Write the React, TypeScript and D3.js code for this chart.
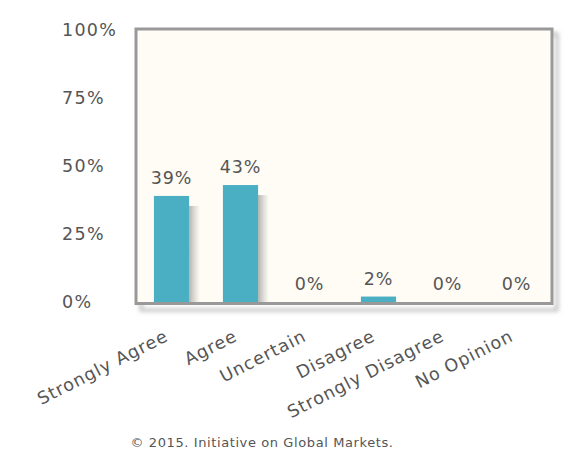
import React from "react";
import * as d3 from "d3";

const categories = ["Strongly Agree", "Agree", "Uncertain", "Disagree", "Strongly Disagree", "No Opinion"];
const values = [39, 43, 0, 2, 0, 0];
const yTicks = [0, 25, 50, 75, 100];
const footer = "© 2015. Initiative on Global Markets.";

const W = 568;
const H = 457;
const plot = { left: 137, right: 551, top: 30, bottom: 302 };
const font = "'DejaVu Sans', Verdana, sans-serif";
const textColor = "#555";

export default function App() {
  const x = d3
    .scaleBand<string>()
    .domain(categories)
    .range([plot.left, plot.right])
    .paddingInner(0.49)
    .paddingOuter(0.245);
  const y = d3.scaleLinear().domain([0, 100]).range([plot.bottom, plot.top]);
  const bw = x.bandwidth();

  return (
    <svg width={W} height={H} style={{ position: "absolute", left: 0, top: 0, display: "block" }}>
      <defs>
        <linearGradient id="barShadow" x1="0" x2="1" y1="0" y2="0">
          <stop offset="0" stopColor="#777" stopOpacity="0.55" />
          <stop offset="1" stopColor="#999" stopOpacity="0" />
        </linearGradient>
        <filter id="blur" x="-10%" y="-10%" width="120%" height="120%">
          <feGaussianBlur stdDeviation="2" />
        </filter>
      </defs>
      <rect width={W} height={H} fill="#fff" />
      <rect
        x={plot.left + 1}
        y={plot.top + 1}
        width={plot.right - plot.left + 2}
        height={plot.bottom - plot.top + 4}
        fill="none"
        stroke="#bbb"
        strokeWidth={3}
        filter="url(#blur)"
        transform="translate(3,3)"
      />
      <rect
        x={plot.left - 1}
        y={plot.top - 1}
        width={plot.right - plot.left + 2}
        height={plot.bottom - plot.top + 2.5}
        fill="#FFFCF5"
        stroke="#999"
        strokeWidth={3}
      />
      {yTicks.map((t) => (
        <text
          key={t}
          x={62}
          y={y(t) + 5.5}
          fontFamily={font}
          fontSize={17.5}
          fill={textColor}
          letterSpacing={1.3}
        >
          {t}%
        </text>
      ))}
      {categories.map((c, i) => {
        const v = values[i];
        const bx = x(c)!;
        const top = y(v);
        return (
          <g key={c}>
            {v > 0 && (
              <rect
                x={bx + bw}
                y={Math.min(top + 10, plot.bottom)}
                width={11}
                height={Math.max(0, plot.bottom - top - 10)}
                fill="url(#barShadow)"
              />
            )}
            {v > 0 && <rect x={bx} y={top} width={bw} height={plot.bottom - top} fill="#4BAFC4" />}
            <text
              x={bx + bw / 2}
              y={top - 12}
              textAnchor="middle"
              fontFamily={font}
              fontSize={17.5}
              fill={textColor}
              letterSpacing={0.8}
            >
              {v}%
            </text>
            <text
              transform={`translate(${bx + bw / 2 - 2},${plot.bottom + 38}) rotate(-27)`}
              textAnchor="end"
              fontFamily={font}
              fontSize={17.5}
              fill={textColor}
              letterSpacing={1}
            >
              {c}
            </text>
          </g>
        );
      })}
      <text
        x={262}
        y={447}
        textAnchor="middle"
        fontFamily={font}
        fontSize={13}
        fill={textColor}
        letterSpacing={0.6}
      >
        {footer}
      </text>
    </svg>
  );
}
